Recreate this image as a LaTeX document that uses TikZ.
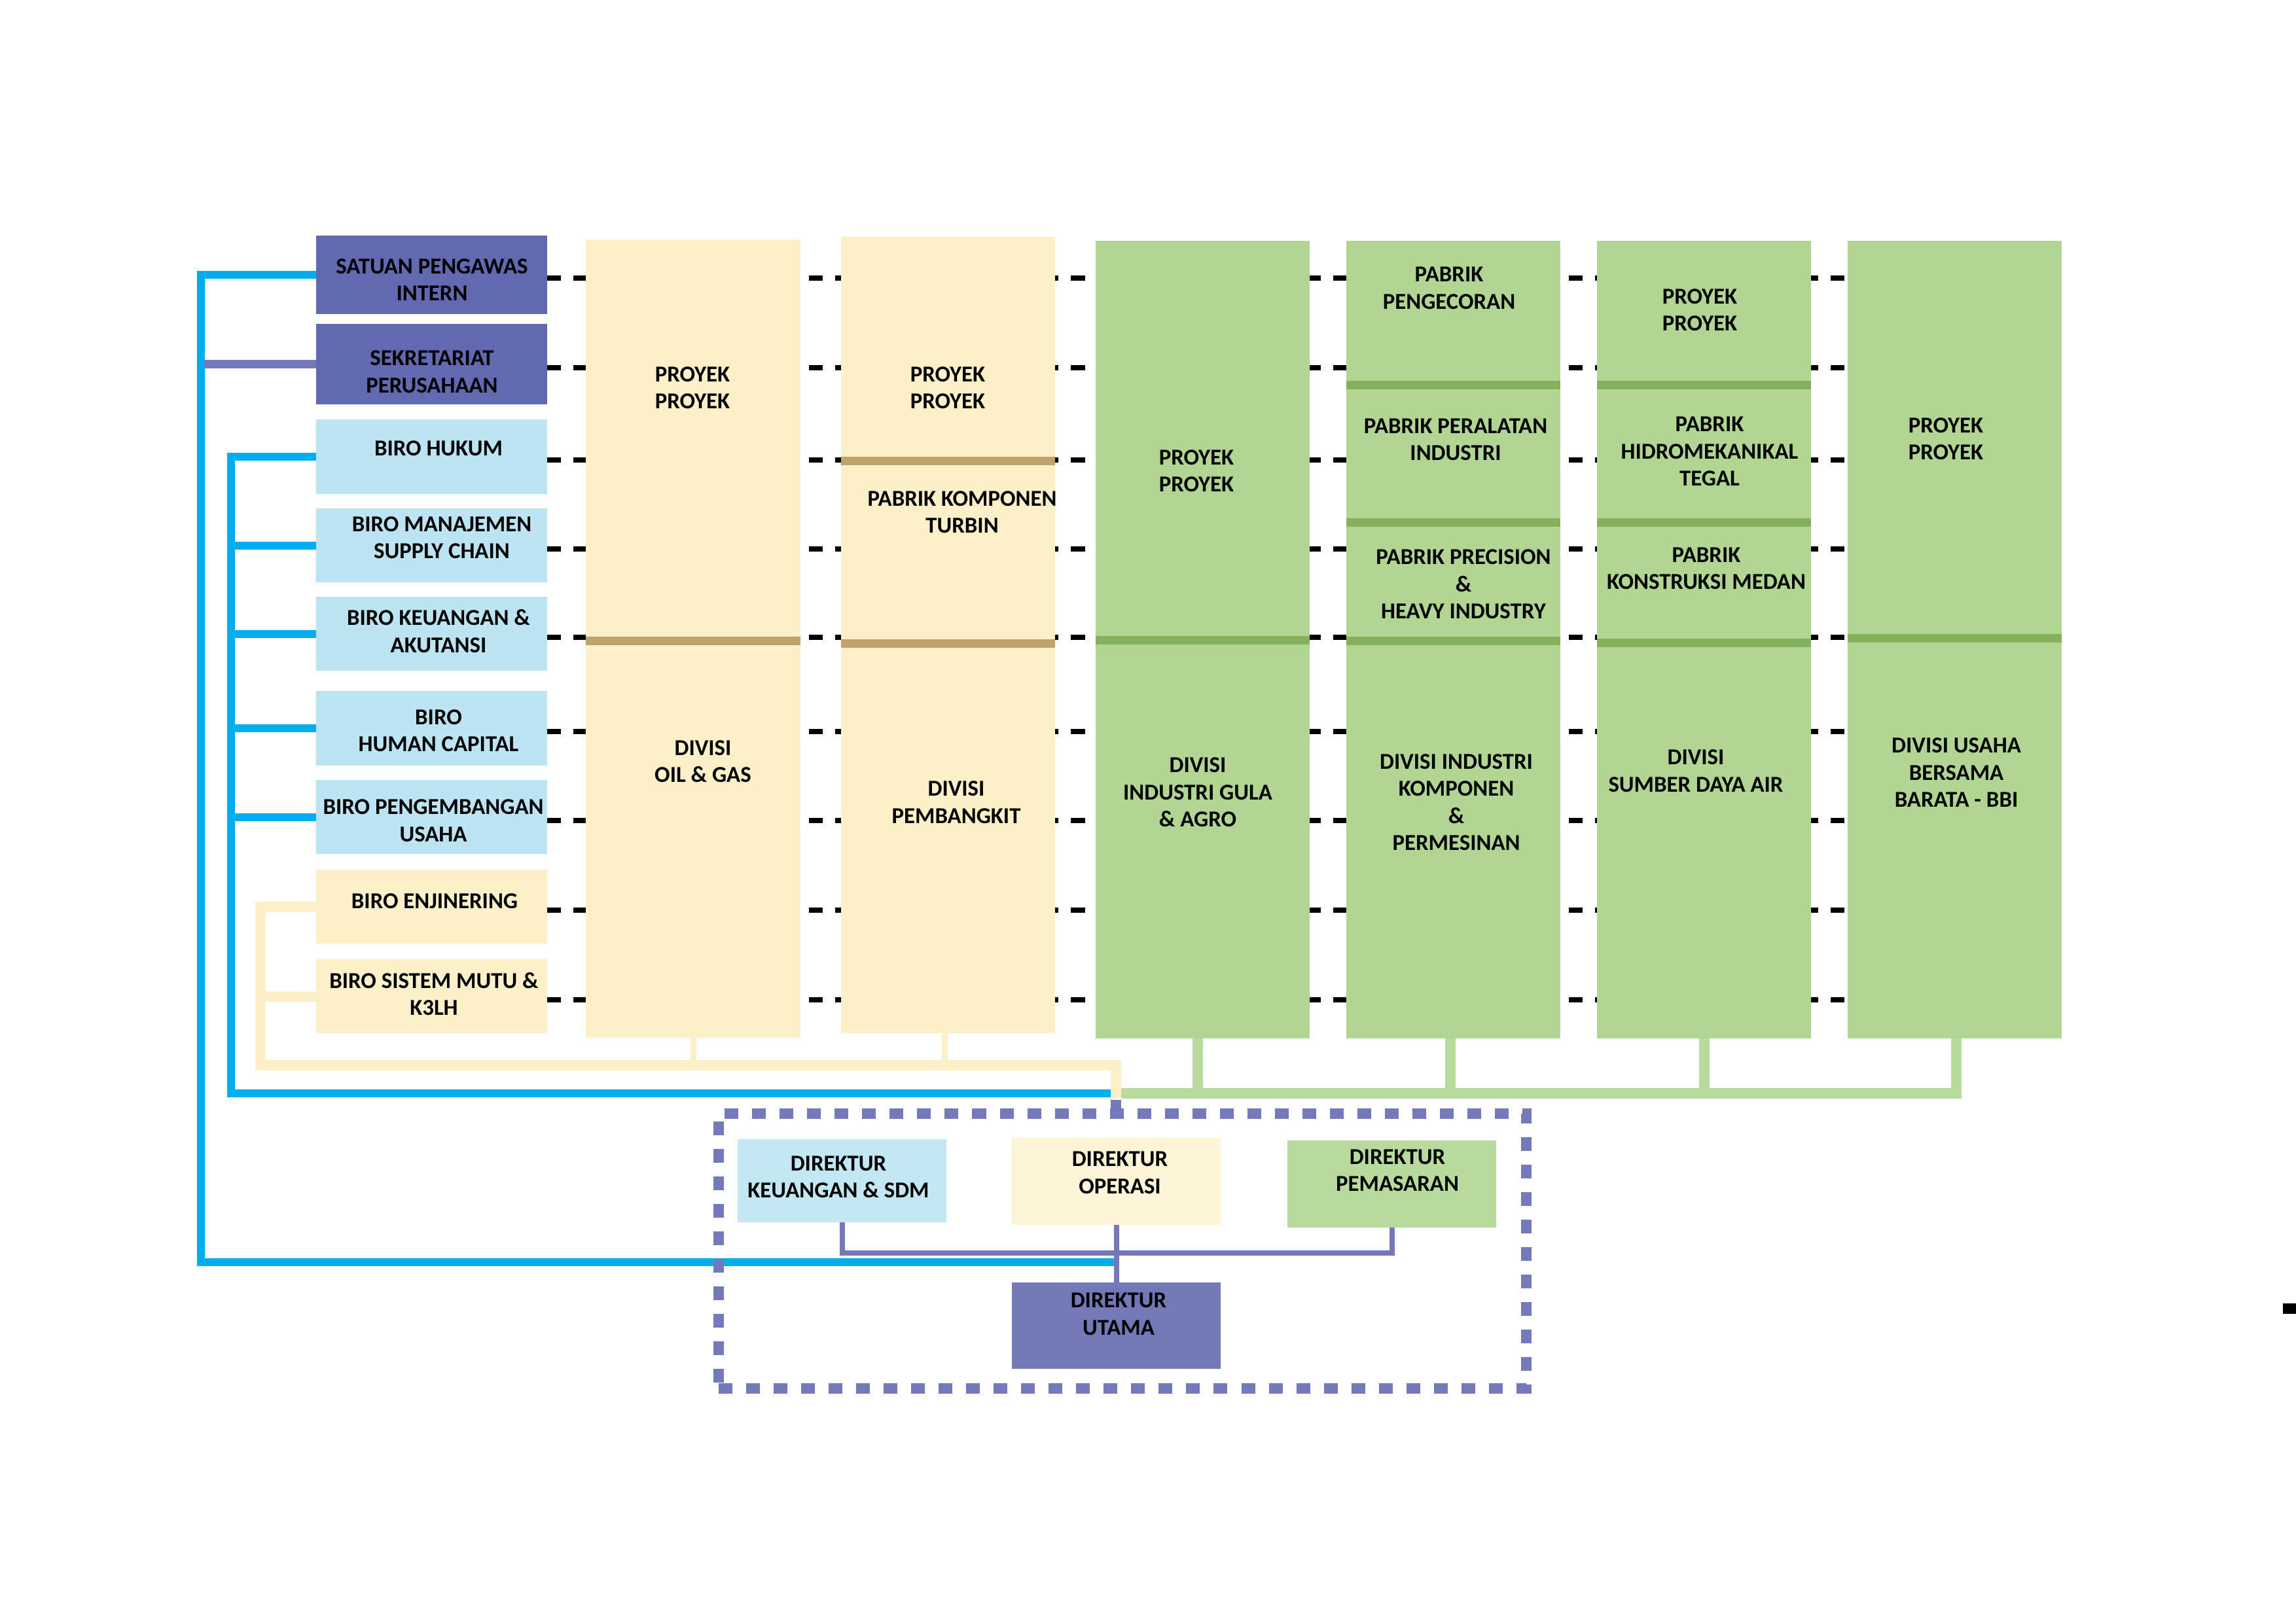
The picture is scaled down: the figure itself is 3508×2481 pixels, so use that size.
\documentclass[tikz,border=0pt]{standalone}
\usepackage{fontspec}
\setmainfont{Carlito}
\usetikzlibrary{fit,calc}
\definecolor{cspi}{HTML}{6369B0}
\definecolor{cutama}{HTML}{7378B7}
\definecolor{cpurp}{HTML}{7477B9}
\definecolor{cdash}{HTML}{7379BA}
\definecolor{clblue}{HTML}{BCE4F2}
\definecolor{cdkeu}{HTML}{C3E7F3}
\definecolor{ccream}{HTML}{FCF0C9}
\definecolor{cdops}{HTML}{FEF5D6}
\definecolor{cgreen}{HTML}{B1D692}
\definecolor{cdpem}{HTML}{B6DB9C}
\definecolor{cgline}{HTML}{B6DB9B}
\definecolor{cdgreen}{HTML}{85B15D}
\definecolor{cbrown}{HTML}{BEA46A}
\definecolor{cblue}{HTML}{00AEEF}
\newcommand{\mkbox}[6]{\node[boxshape,#6,fit={(#2,#3) (#4,#5)}] (#1) {};}
\begin{document}
\begin{tikzpicture}[x=0.01cm,y=-0.01cm,
  boxshape/.style={inner sep=0pt,outer sep=0pt,draw=none,rectangle},
  txt/.style={inner sep=0pt,outer sep=0pt,align=center,text=black,
    font=\bfseries\fontsize{9.9}{11.8}\selectfont},
  rowdash/.style={line width=0.08cm,black,dash pattern=on 0.21cm off 0.19cm},
  blueln/.style={line width=0.12cm,cblue},
  purpln/.style={line width=0.13cm,cpurp},
  purpthin/.style={line width=0.08cm,cpurp},
  purpstub/.style={line width=0.16cm,cdash},
  creamln/.style={line width=0.16cm,ccream},
  creamthin/.style={line width=0.09cm,ccream},
  greenln/.style={line width=0.16cm,cgline},
  sepbrown/.style={line width=0.13cm,cbrown},
  sepgreen/.style={line width=0.13cm,cdgreen},
  dashboard/.style={boxshape,draw=cdash,line width=0.16cm,dash pattern=on 0.21cm off 0.21cm}
]
\useasboundingbox (0,0) rectangle (3508,2481);

% ---------- left boxes ----------
\mkbox{spi}{483}{360}{836}{480}{fill=cspi}
\mkbox{sek}{483}{495}{836}{618}{fill=cspi}
\mkbox{huk}{483}{641}{836}{755}{fill=clblue}
\mkbox{man}{483}{777}{836}{890}{fill=clblue}
\mkbox{keu}{483}{912}{836}{1025}{fill=clblue}
\mkbox{hc}{483}{1056}{836}{1170}{fill=clblue}
\mkbox{peng}{483}{1192}{836}{1305}{fill=clblue}
\mkbox{enj}{483}{1329}{836}{1442}{fill=ccream}
\mkbox{mutu}{483}{1466}{836}{1579}{fill=ccream}

% ---------- dashed rows (behind columns) ----------
\coordinate (rightend) at (2823,0);
\foreach \b in {spi,sek,huk,man,keu,hc,peng,enj,mutu}
  \draw[rowdash] ([yshift=-0.05cm]\b.east) -- ([yshift=-0.05cm]\b.east -| rightend);

% ---------- columns ----------
\mkbox{c1a}{895}{366}{1223}{979}{fill=ccream}
\mkbox{c1b}{895}{979}{1223}{1586}{fill=ccream}
\mkbox{c2a}{1285}{362}{1612}{704}{fill=ccream}
\mkbox{c2b}{1285}{704}{1612}{983}{fill=ccream}
\mkbox{c2c}{1285}{983}{1612}{1579}{fill=ccream}
\mkbox{c3a}{1674}{368}{2001}{978}{fill=cgreen}
\mkbox{c3b}{1674}{978}{2001}{1587}{fill=cgreen}
\mkbox{c4a}{2057}{368}{2384}{588}{fill=cgreen}
\mkbox{c4b}{2057}{588}{2384}{798}{fill=cgreen}
\mkbox{c4c}{2057}{798}{2384}{979}{fill=cgreen}
\mkbox{c4d}{2057}{979}{2384}{1587}{fill=cgreen}
\mkbox{c5a}{2440}{368}{2767}{588}{fill=cgreen}
\mkbox{c5b}{2440}{588}{2767}{798}{fill=cgreen}
\mkbox{c5c}{2440}{798}{2767}{982}{fill=cgreen}
\mkbox{c5d}{2440}{982}{2767}{1587}{fill=cgreen}
\mkbox{c6a}{2823}{368}{3150}{975}{fill=cgreen}
\mkbox{c6b}{2823}{975}{3150}{1587}{fill=cgreen}

% separators
\draw[sepbrown] (c1a.south west) -- (c1a.south east);
\draw[sepbrown] (c2a.south west) -- (c2a.south east);
\draw[sepbrown] (c2b.south west) -- (c2b.south east);
\foreach \s in {c3a,c4a,c4b,c4c,c5a,c5b,c5c,c6a}
  \draw[sepgreen] (\s.south west) -- (\s.south east);

% ---------- direktur boxes ----------
\mkbox{dkeu}{1127}{1741}{1446}{1868}{fill=cdkeu}
\mkbox{dops}{1546}{1739}{1865}{1872}{fill=cdops}
\mkbox{dpem}{1967}{1743}{2286}{1876}{fill=cdpem}
\mkbox{dut}{1546}{1960}{1865}{2092}{fill=cutama}

% ---------- connectors ----------
\coordinate (J) at (1705,1671);
\coordinate (Jb) at (1705,1929);

% outer blue
\draw[blueln] (spi.west) -| (307,1929) -- (Jb);
% sekretariat purple
\draw[purpln] (sek.west) -- ++(-171,0);
% inner blue
\draw[blueln] (huk.west) -| (353,1671) -- (J);
\foreach \b in {man,keu,hc,peng}
  \draw[blueln] (\b.west) -- ++(-136,0);
% green
\draw[greenln] ($(c6b.south)+(2,0)$) -- ++(0,84) -- (J);
\draw[greenln] ($(c3b.south)+(-8,0)$) -- ++(0,84);
\draw[greenln] ($(c4d.south)+(-5,0)$) -- ++(0,84);
\draw[greenln] (c5d.south) -- ++(0,84);
% cream
\draw[creamthin] (c1b.south) -- ++(0,42);
\draw[creamthin] ($(c2c.south)+(-5,0)$) -- ++(0,49);
\draw[creamln] (mutu.west) -- ++(-93,0);
\draw[creamln] (enj.west) -| (398,1628) -| ($(J)+(0,8)$);

% direktur purple links
\draw[purpthin] (dkeu.south) -- ++(0,47) -| (dpem.south);
\draw[purpthin] (dops.south) -- (dut.north);

% dashed board
\node[dashboard,fit={(1098,1702) (2332,2122)}] (board) {};
\draw[purpstub] ($(J)+(0,10)$) -- (J |- board.north);

% stray mark at right edge
\fill[black] (3488,1992) rectangle (3508,2008);

% ---------- texts ----------
\node[txt] (t-spi) at (660,427.5) {SATUAN PENGAWAS\\INTERN};
\node[txt] (t-sek) at (660,568) {SEKRETARIAT\\PERUSAHAAN};
\node[txt] (t-huk) at (670,685) {BIRO HUKUM};
\node[txt] (t-man) at (675,821.5) {BIRO MANAJEMEN\\SUPPLY CHAIN};
\node[txt] (t-keu) at (670,964.5) {BIRO KEUANGAN \&\\AKUTANSI};
\node[txt] (t-hc) at (670,1116.5) {BIRO\\HUMAN CAPITAL};
\node[txt] (t-peng) at (662,1254) {BIRO PENGEMBANGAN\\USAHA};
\node[txt] (t-enj) at (664,1377) {BIRO ENJINERING};
\node[txt] (t-mutu) at (663,1519) {BIRO SISTEM MUTU \&\\K3LH};

\node[txt] (t-c1a) at (1058,592.5) {PROYEK\\PROYEK};
\node[txt] (t-c1b) at (1074,1163.5) {DIVISI\\OIL \& GAS};
\node[txt] (t-c2a) at (1448,592.5) {PROYEK\\PROYEK};
\node[txt] (t-c2b) at (1470,782.5) {PABRIK KOMPONEN\\TURBIN};
\node[txt] (t-c2c) at (1461,1226) {DIVISI\\PEMBANGKIT};
\node[txt] (t-c3a) at (1828,719.5) {PROYEK\\PROYEK};
\node[txt] (t-c3b) at (1830,1211) {DIVISI\\INDUSTRI GULA\\\& AGRO};
\node[txt] (t-c4a) at (2214,440.5) {PABRIK\\PENGECORAN};
\node[txt] (t-c4b) at (2224,672) {PABRIK PERALATAN\\INDUSTRI};
\node[txt] (t-c4c) at (2236,893) {PABRIK PRECISION\\\&\\HEAVY INDUSTRY};
\node[txt] (t-c4d) at (2225,1226) {DIVISI INDUSTRI\\KOMPONEN\\\&\\PERMESINAN};
\node[txt] (t-c5a) at (2597,473.5) {PROYEK\\PROYEK};
\node[txt] (t-c5b) at (2612,690) {PABRIK\\HIDROMEKANIKAL\\TEGAL};
\node[txt] (t-c5c) at (2607,869) {PABRIK\\KONSTRUKSI MEDAN};
\node[txt] (t-c5d) at (2591,1178) {DIVISI\\SUMBER DAYA AIR};
\node[txt] (t-c6a) at (2973,670.5) {PROYEK\\PROYEK};
\node[txt] (t-c6b) at (2989,1181) {DIVISI USAHA\\BERSAMA\\BARATA - BBI};

\node[txt] (t-dkeu) at (1281,1799) {DIREKTUR\\KEUANGAN \& SDM};
\node[txt] (t-dops) at (1711,1792.5) {DIREKTUR\\OPERASI};
\node[txt] (t-dpem) at (2135,1789) {DIREKTUR\\PEMASARAN};
\node[txt] (t-dut) at (1709,2008.5) {DIREKTUR\\UTAMA};
\end{tikzpicture}
\end{document}
